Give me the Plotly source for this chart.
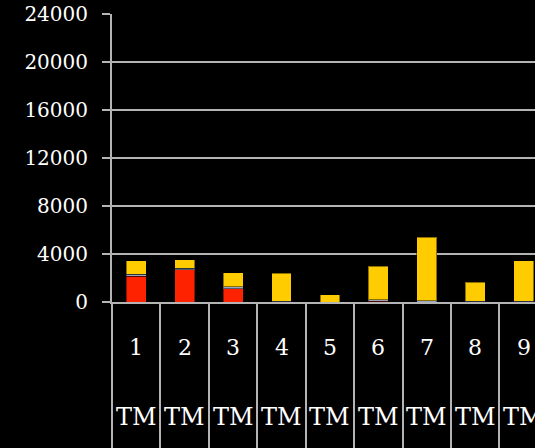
import plotly.graph_objects as go

# Categories along the x axis and the shared group label under each one
categories = ["1", "2", "3", "4", "5", "6", "7", "8", "9"]
group_labels = ["TM", "TM", "TM", "TM", "TM", "TM", "TM", "TM", "TM"]

# Stacked series values (bottom to top)
red_values = [2150, 2700, 1120, 0, 0, 80, 0, 40, 40]
blue_values = [150, 120, 140, 80, 0, 100, 100, 40, 40]
yellow_values = [1150, 720, 1190, 2320, 600, 2800, 5290, 1570, 3350]

# Y axis ticks
y_ticks = [0, 4000, 8000, 12000, 16000, 20000, 24000]
y_tick_text = ["0", "4000", "8000", "12000", "16000", "20000", "24000"]

GRID = "#b4b4b4"
FONT = "DejaVu Serif"
EDGE = dict(color="rgba(0,0,0,0.45)", width=1)

fig = go.Figure()
fig.add_trace(go.Bar(x=categories, y=red_values, marker=dict(color="#ff2200", line=EDGE)))
fig.add_trace(go.Bar(x=categories, y=blue_values, marker=dict(color="#98a4c4", line=EDGE)))
fig.add_trace(go.Bar(x=categories, y=yellow_values, marker=dict(color="#ffcc00", line=EDGE)))

# Two rows of category labels below the axis (placed by category index)
annotations = []
for idx, (cat, grp) in enumerate(zip(categories, group_labels)):
    annotations.append(dict(x=idx, y=0, xref="x", yref="paper", text=cat,
                            showarrow=False, yanchor="middle", yshift=-45,
                            font=dict(family=FONT, size=22, color="white")))
    annotations.append(dict(x=idx, y=0, xref="x", yref="paper", text=grp,
                            showarrow=False, yanchor="middle", yshift=-115,
                            font=dict(family=FONT, size=24, color="white")))

fig.update_layout(
    width=535, height=448,
    margin=dict(l=112, r=0, t=14, b=146),
    paper_bgcolor="black", plot_bgcolor="black",
    barmode="stack", bargap=0.59,
    showlegend=False,
    annotations=annotations,
    xaxis=dict(
        type="category", range=[-0.5, 8.234], automargin=False,
        showgrid=False, zeroline=False,
        showline=True, linecolor=GRID, linewidth=2,
        ticks="outside", tickson="boundaries", ticklen=150,
        tickcolor=GRID, tickwidth=2, showticklabels=False,
    ),
    yaxis=dict(
        range=[0, 24000], tickvals=y_ticks, ticktext=y_tick_text,
        automargin=False,
        showgrid=True, gridcolor=GRID, gridwidth=2,
        zeroline=False,
        showline=True, linecolor=GRID, linewidth=2,
        ticks="outside", ticklen=8, tickcolor=GRID, tickwidth=2,
        ticklabelstandoff=10,
        tickfont=dict(family=FONT, size=20, color="white"),
    ),
)

fig.write_html("out.html")
